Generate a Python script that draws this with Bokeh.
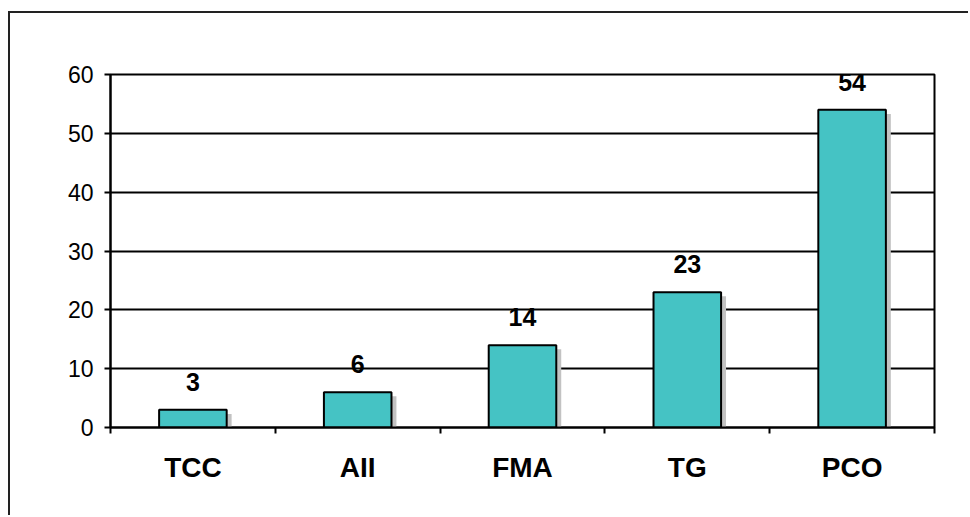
from bokeh.plotting import figure
from bokeh.models import Range1d, FixedTicker, ColumnDataSource
from bokeh.core.properties import value
from bokeh.embed import file_html
from bokeh.resources import INLINE

# Data
categories = ["TCC", "AII", "FMA", "TG", "PCO"]
counts = [3, 6, 14, 23, 54]
y_ticks = [0, 10, 20, 30, 40, 50, 60]

FONT = "Liberation Sans"
BAR_COLOR = "#45C3C4"

positions = [i + 0.5 for i in range(len(categories))]
src = ColumnDataSource(dict(
    x=positions,
    top=counts,
    label=[str(c) for c in counts],
    shadow_x=[x + 0.03 for x in positions],
    shadow_top=[c - 0.7 for c in counts],
))

p = figure(width=960, height=504, output_backend="svg", toolbar_location=None,
           x_range=Range1d(0, len(categories)), y_range=Range1d(0, 60),
           min_border_left=100, min_border_right=36, min_border_top=61, min_border_bottom=90)

# Framed panel: only the top and left edges of the frame fall inside the page
p.styles = {"margin-left": "8px", "margin-top": "11px",
            "border-left": "2px solid #222222", "border-top": "2px solid #222222"}

p.background_fill_color = "white"
p.border_fill_color = "white"
p.outline_line_color = "black"
p.outline_line_width = 2

# Grid
p.xgrid.visible = False
p.ygrid.ticker = FixedTicker(ticks=y_ticks)
p.ygrid.grid_line_color = "black"
p.ygrid.grid_line_width = 2

# Bars with drop shadow
p.vbar(x="shadow_x", top="shadow_top", bottom=0, width=0.41, source=src,
       fill_color="#c2c2c2", line_color=None)
p.vbar(x="x", top="top", bottom=0, width=0.41, source=src,
       fill_color=BAR_COLOR, line_color="black", line_width=2)

# Value labels
p.text(x="x", y="top", text="label", source=src,
       text_font=value(FONT), text_font_size="25px", text_font_style="bold",
       text_align="center", text_baseline="middle", y_offset=-28, text_color="black")

# Y axis
p.yaxis.ticker = FixedTicker(ticks=y_ticks)
p.yaxis.axis_line_color = "black"
p.yaxis.axis_line_width = 2
p.yaxis.major_tick_line_width = 2
p.yaxis.major_tick_out = 6
p.yaxis.major_tick_in = 0
p.yaxis.minor_tick_line_color = None
p.yaxis.major_label_text_font = FONT
p.yaxis.major_label_text_font_size = "23px"
p.yaxis.major_label_text_color = "black"
p.yaxis.major_label_standoff = 11

# X axis: labels at bar centres, ticks between categories
p.xaxis.ticker = FixedTicker(ticks=positions, minor_ticks=list(range(len(categories) + 1)))
p.xaxis.major_label_overrides = {pos: cat for pos, cat in zip(positions, categories)}
p.xaxis.axis_line_color = "black"
p.xaxis.axis_line_width = 2
p.xaxis.major_tick_line_color = None
p.xaxis.major_tick_out = 0
p.xaxis.major_tick_in = 0
p.xaxis.minor_tick_line_color = "black"
p.xaxis.minor_tick_line_width = 2
p.xaxis.minor_tick_out = 6
p.xaxis.minor_tick_in = 0
p.xaxis.major_label_text_font = FONT
p.xaxis.major_label_text_font_size = "28px"
p.xaxis.major_label_text_font_style = "bold"
p.xaxis.major_label_text_color = "black"
p.xaxis.major_label_standoff = 18

open("out.html", "w").write(file_html(p, INLINE))
